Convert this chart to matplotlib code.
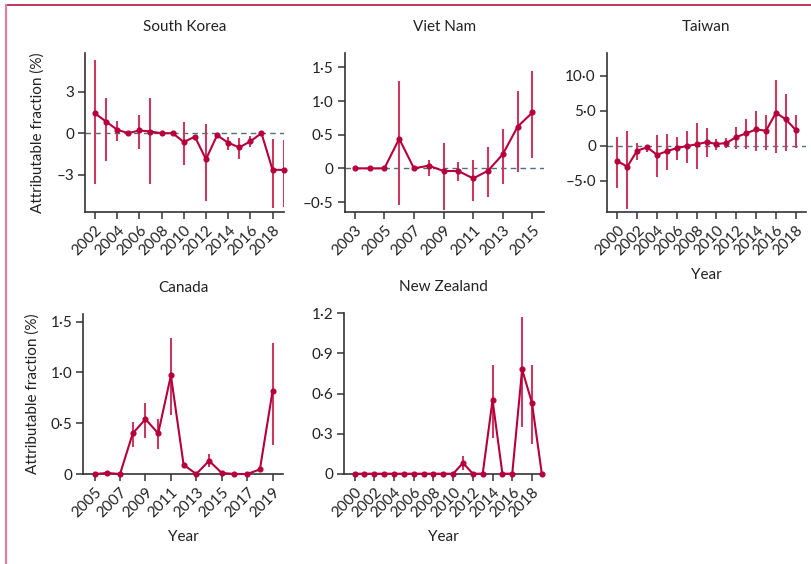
import matplotlib
matplotlib.use("Agg")
import matplotlib.pyplot as plt
from matplotlib.lines import Line2D
import numpy as np

plt.rcParams['font.family'] = ['Lato', 'DejaVu Sans']

# ---------------- data ----------------
sk_years = list(range(2002, 2020))
sk_val = [1.43, 0.84, 0.25, 0.0, 0.2, 0.12, 0.0, 0.0, -0.64, -0.25, -1.89, -0.15, -0.69, -1.03, -0.59, 0.0, -2.65, -2.65]
sk_lo = [-3.66, -2.0, -0.59, 0.0, -1.13, -3.69, 0.0, 0.0, -2.28, -0.25, -4.87, -0.15, -1.25, -1.84, -1.0, 0.0, -5.41, -5.33]
sk_hi = [5.28, 2.58, 0.86, 0.0, 1.28, 2.53, 0.0, 0.0, 0.81, -0.25, 0.69, -0.15, -0.27, -0.37, -0.2, 0.0, -0.44, -0.49]
sk_yticks = [-3, 0, 3]
sk_yticklabels = ['\u20133', '0', '3']
sk_xticks = list(range(2002, 2019, 2))

vn_years = list(range(2003, 2016))
vn_val = [0.0, 0.0, 0.0, 0.44, 0.0, 0.04, -0.04, -0.04, -0.15, -0.035, 0.21, 0.62, 0.83]
vn_lo = [0.0, 0.0, 0.0, -0.54, 0.0, -0.11, -0.62, -0.19, -0.49, -0.42, -0.23, -0.05, 0.16]
vn_hi = [0.0, 0.0, 0.0, 1.30, 0.0, 0.13, 0.37, 0.09, 0.12, 0.31, 0.59, 1.15, 1.45]
vn_yticks = [-0.5, 0, 0.5, 1.0, 1.5]
vn_yticklabels = ['\u20130\u00b75', '0', '0\u00b75', '1\u00b70', '1\u00b75']
vn_xticks = list(range(2003, 2016, 2))

tw_years = list(range(2000, 2019))
tw_val = [-2.19, -3.0, -0.71, -0.24, -1.29, -0.81, -0.33, -0.05, 0.19, 0.52, 0.24, 0.38, 1.24, 1.76, 2.33, 2.14, 4.71, 3.76, 2.24]
tw_lo = [-6.0, -9.05, -2.1, -0.86, -4.52, -3.43, -2.0, -2.48, -3.38, -1.57, -0.57, -0.29, -0.52, -0.43, -0.71, -0.57, -1.1, -0.81, -0.38]
tw_hi = [1.24, 2.05, 0.38, 0.14, 1.52, 1.62, 1.19, 2.14, 3.29, 2.48, 0.95, 1.1, 2.67, 3.81, 4.95, 4.38, 9.38, 7.33, 4.43]
tw_yticks = [-5, 0, 5, 10]
tw_yticklabels = ['\u20135\u00b70', '0', '5\u00b70', '10\u00b70']
tw_xticks = list(range(2000, 2019, 2))

ca_years = list(range(2005, 2020))
ca_val = [0.0, 0.01, 0.0, 0.40, 0.54, 0.40, 0.97, 0.09, 0.0, 0.13, 0.01, 0.0, 0.0, 0.045, 0.82]
ca_lo = [0.0, 0.01, 0.0, 0.27, 0.35, 0.25, 0.58, 0.06, 0.0, 0.07, 0.01, 0.0, 0.0, 0.03, 0.29]
ca_hi = [0.0, 0.01, 0.0, 0.51, 0.70, 0.54, 1.34, 0.11, 0.0, 0.20, 0.01, 0.0, 0.0, 0.06, 1.29]
ca_yticks = [0, 0.5, 1.0, 1.5]
ca_yticklabels = ['0', '0\u00b75', '1\u00b70', '1\u00b75']
ca_xticks = list(range(2005, 2020, 2))

nz_years = list(range(2000, 2020))
nz_val = [0.0] * 11 + [0.08, 0.0, 0.0, 0.55, 0.0, 0.0, 0.78, 0.53, 0.0]
nz_lo = [0.0] * 11 + [0.03, 0.0, 0.0, 0.27, 0.0, 0.0, 0.35, 0.22, 0.0]
nz_hi = [0.0] * 11 + [0.13, 0.0, 0.0, 0.81, 0.0, 0.0, 1.17, 0.81, 0.0]
nz_yticks = [0, 0.3, 0.6, 0.9, 1.2]
nz_yticklabels = ['0', '0\u00b73', '0\u00b76', '0\u00b79', '1\u00b72']
nz_xticks = list(range(2000, 2019, 2))

# ---------------- style ----------------
W, H = 812, 564
LINE_C = '#b5003b'
ERR_C = '#c93a62'
ZERO_C = '#4d6f7e'
TXT_C = '#222222'
FS = 11

fig = plt.figure(figsize=(W / 100, H / 100), dpi=100)

# frame lines
fig.add_artist(Line2D([6 / W, 1], [1 - 5 / H, 1 - 5 / H], color='#b5173f', lw=1.2, transform=fig.transFigure))
fig.add_artist(Line2D([6 / W, 6 / W], [0, 1 - 5 / H], color='#d9849e', lw=1.6, transform=fig.transFigure))


def px_axes(l, t, r, b):
    return fig.add_axes([l / W, 1 - b / H, (r - l) / W, (b - t) / H])


def panel(box, title, years, val, lo, hi, xticks, yticks, yticklabels,
          xlim, ylim, zero_line, ylabel, xlabel):
    ax = px_axes(*box)
    years = np.array(years)
    val = np.array(val)
    lo = np.array(lo)
    hi = np.array(hi)
    if zero_line:
        ax.axhline(0, color=ZERO_C, lw=1.0, ls=(0, (4, 3)), zorder=1)
    ax.vlines(years, lo, hi, color=ERR_C, lw=1.5, zorder=2)
    ax.plot(years, val, color=LINE_C, lw=1.5, marker='o', ms=3.4, zorder=3,
            clip_on=False)
    ax.set_xlim(*xlim)
    ax.set_ylim(*ylim)
    ax.set_xticks(xticks)
    ax.set_xticklabels([str(x) for x in xticks], rotation=45, ha='right',
                       rotation_mode='anchor', fontsize=FS, color=TXT_C)
    ax.set_yticks(yticks)
    ax.set_yticklabels(yticklabels, fontsize=FS, color=TXT_C)
    for s in ['top', 'right']:
        ax.spines[s].set_visible(False)
    for s in ['left', 'bottom']:
        ax.spines[s].set_color('#333333')
        ax.spines[s].set_linewidth(1.2)
    ax.tick_params(direction='out', length=5, width=1.1, color='#333333', pad=3)
    l, t, r, b = box
    fig.text((l + r) / 2 / W, 1 - (t - 26) / H, title, fontsize=FS, color=TXT_C,
             ha='center', va='center')
    if ylabel:
        ax.set_ylabel('Attributable fraction (%)', fontsize=FS, color=TXT_C, labelpad=8)
    if xlabel:
        ax.set_xlabel('Year', fontsize=FS, color=TXT_C, labelpad=7)
    return ax


panel((85, 53, 284, 212), 'South Korea', sk_years, sk_val, sk_lo, sk_hi,
      sk_xticks, sk_yticks, sk_yticklabels, (2001.1, 2019.03), (-5.7, 5.8),
      True, True, False)
panel((344.7, 52.7, 544.3, 212.3), 'Viet Nam', vn_years, vn_val, vn_lo, vn_hi,
      vn_xticks, vn_yticks, vn_yticklabels, (2002.32, 2015.8), (-0.653, 1.718),
      True, False, False)
panel((607, 52.7, 805.7, 212.3), 'Taiwan', tw_years, tw_val, tw_lo, tw_hi,
      tw_xticks, tw_yticks, tw_yticklabels, (1998.96, 2019.0), (-9.52, 13.29),
      True, False, True)
panel((83.3, 314, 283.3, 474), 'Canada', ca_years, ca_val, ca_lo, ca_hi,
      ca_xticks, ca_yticks, ca_yticklabels, (2004.11, 2019.84), (0, 1.575),
      False, True, True)
panel((344.3, 313.3, 542.3, 473.7), 'New Zealand', nz_years, nz_val, nz_lo, nz_hi,
      nz_xticks, nz_yticks, nz_yticklabels, (1998.95, 2019.05), (0, 1.2),
      False, False, True)

fig.savefig('out.png', dpi=100)
